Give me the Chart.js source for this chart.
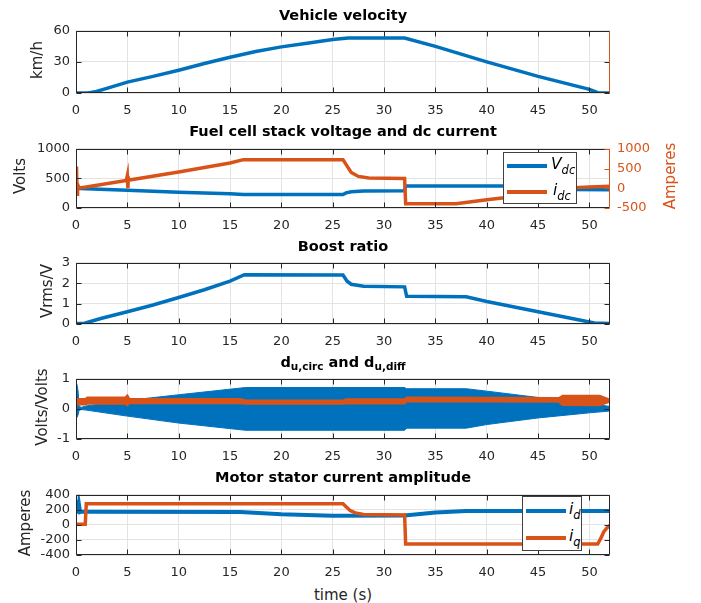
<!DOCTYPE html>
<html><head><meta charset="utf-8">
<script src="https://cdn.jsdelivr.net/npm/chart.js@4.4.0/dist/chart.umd.min.js"></script>
<style>
body{margin:0;background:#fff;}
#fig{position:relative;width:701px;height:603px;overflow:hidden;background:#fff;font-family:"DejaVu Sans",sans-serif;color:#262626;}
canvas{position:absolute;left:0;}
.ttl{position:absolute;left:343px;transform:translate(-50%,-50%);font-weight:bold;font-size:14.5px;color:#000;white-space:nowrap;}
.ttl sub{font-size:10.5px;}
.yl{position:absolute;transform:translate(-50%,-50%) rotate(-90deg);font-size:15px;white-space:nowrap;color:#262626;}
.lg{position:absolute;background:#fff;border:1px solid #404040;box-sizing:border-box;}
.ls{position:absolute;height:4px;width:40px;}
.lt{position:absolute;font-style:italic;font-size:15.5px;color:#000;transform:translateY(-50%);white-space:nowrap;}
.lt sub{font-size:11.5px;}
</style></head>
<body>
<div id="fig">
  <canvas id="c1" width="701" height="100" style="top:17px"></canvas>
  <canvas id="c2" width="701" height="98" style="top:134px"></canvas>
  <canvas id="c3" width="701" height="99" style="top:249px"></canvas>
  <canvas id="c4" width="701" height="98" style="top:365px"></canvas>
  <canvas id="c5" width="701" height="98" style="top:481px"></canvas>

  <div class="ttl" style="top:15px">Vehicle velocity</div>
  <div class="ttl" style="top:131px">Fuel cell stack voltage and dc current</div>
  <div class="ttl" style="top:246px">Boost ratio</div>
  <div class="ttl" style="top:363px">d<sub>u,circ</sub> and d<sub>u,diff</sub></div>
  <div class="ttl" style="top:477px">Motor stator current amplitude</div>

  <div class="yl" style="left:37px;top:60px">km/h</div>
  <div class="yl" style="left:20px;top:176px">Volts</div>
  <div class="yl" style="left:670px;top:176px;color:#D95319">Amperes</div>
  <div class="yl" style="left:47px;top:291px">Vrms/V</div>
  <div class="yl" style="left:42px;top:407px">Volts/Volts</div>
  <div class="yl" style="left:25px;top:523px">Amperes</div>
  <div style="position:absolute;left:343px;top:595px;transform:translate(-50%,-50%);font-size:15px;color:#262626;white-space:nowrap">time (s)</div>

  <div class="lg" style="left:503px;top:152px;width:74px;height:52px">
    <div class="ls" style="left:3px;top:11px;background:#0072BD"></div>
    <div class="lt" style="left:47px;top:13px">V<sub>dc</sub></div>
    <div class="ls" style="left:3px;top:37px;background:#D95319"></div>
    <div class="lt" style="left:49px;top:39px">i<sub>dc</sub></div>
  </div>
  <div class="lg" style="left:522px;top:496px;width:60px;height:55px">
    <div class="ls" style="left:3px;top:12px;background:#0072BD"></div>
    <div class="lt" style="left:46px;top:14px">i<sub>d</sub></div>
    <div class="ls" style="left:3px;top:39px;background:#D95319"></div>
    <div class="lt" style="left:46px;top:41px">i<sub>q</sub></div>
  </div>
</div>
<script>
// ---------------- DATA ----------------
const xTicksStep = 5;
// Vehicle velocity (km/h)
const velT = [0, 1.2, 2, 3, 5, 7.5, 10, 12.5, 15, 17.5, 20, 22.5, 25, 26.5, 32, 35, 40, 45, 50, 50.8, 52];
const velV = [0, 0, 1.5, 4.5, 10.5, 16, 22, 28.5, 34.5, 40, 44.5, 48, 51.5, 53, 53, 45, 30, 16, 3.5, 0.3, 0];
// Fuel cell stack voltage (V, left axis)
const vdcT = [0, 0.05, 0.1, 0.2, 0.5, 1, 5, 10, 15, 16.3, 26, 26.3, 26.8, 28, 32, 32.1, 42, 45, 48, 52];
const vdcV = [330, 370, 300, 335, 330, 325, 298, 268, 240, 230, 228, 255, 275, 288, 292, 372, 372, 360, 312, 308];
// DC current (A, right axis)
const idcT = [0, 0.05, 0.1, 0.15, 0.3, 1, 4.9, 5, 5.05, 5.1, 5.2, 10, 15, 16.3, 26, 26.4, 26.8, 27.5, 28.5, 32, 32.1, 37, 40, 43, 46, 48, 50, 52];
const idcV = [0, 550, -150, 100, 10, 30, 200, 320, 0, 260, 210, 410, 640, 725, 725, 560, 400, 300, 260, 250, -390, -390, -290, -200, -100, 10, 35, 50];
// Boost ratio (Vrms/V)
const brT = [0, 0.8, 1, 2.5, 5, 7.5, 10, 12.5, 15, 16.4, 26, 26.4, 26.8, 28, 32, 32.2, 38, 40, 45, 50, 50.5, 52];
const brV = [0.02, 0.03, 0.06, 0.28, 0.6, 0.93, 1.3, 1.68, 2.1, 2.42, 2.4, 2.1, 1.95, 1.85, 1.82, 1.36, 1.33, 1.1, 0.6, 0.1, 0.05, 0.03];
// d_u,circ envelope (Volts/Volts)
const circT  = [0, 0.05, 0.1, 0.2, 0.3, 0.5, 1, 5, 10, 16.5, 32, 32.2, 38, 40, 45, 50, 52];
const circUp = [0.2, 0.85, 0.8, 0.6, 0.1, 0.05, 0.1, 0.28, 0.47, 0.71, 0.71, 0.67, 0.67, 0.59, 0.38, 0.18, 0.08];
const circLo = [-0.1, -0.3, -0.28, -0.2, -0.05, -0.02, -0.04, -0.24, -0.47, -0.71, -0.71, -0.64, -0.64, -0.52, -0.3, -0.13, -0.07];
// d_u,diff band
const diffT  = [0, 0.9, 1.1, 4.8, 5.0, 5.2, 16, 16.5, 26, 26.3, 32, 32.2, 40, 47, 47.4, 51, 51.8, 52];
const diffUp = [0.33, 0.33, 0.38, 0.38, 0.45, 0.34, 0.33, 0.28, 0.28, 0.32, 0.32, 0.38, 0.37, 0.36, 0.44, 0.44, 0.33, 0.3];
const diffLo = [0.15, 0.15, 0.17, 0.17, 0.12, 0.2, 0.19, 0.17, 0.17, 0.18, 0.18, 0.25, 0.25, 0.24, 0.13, 0.12, 0.22, 0.25];
// Motor stator currents (A)
const idT = [0, 0.05, 0.1, 0.15, 0.2, 0.25, 0.3, 0.4, 0.5, 1, 16, 20, 25, 32, 35, 38, 52];
const idV = [300, 150, 330, 160, 300, 170, 260, 170, 175, 175, 170, 140, 122, 125, 166, 185, 185];
const iqT = [0, 0.9, 1, 26, 26.3, 26.7, 27.2, 28, 32, 32.1, 50.8, 51.1, 51.4, 51.7, 52];
const iqV = [10, 10, 280, 280, 240, 190, 160, 138, 132, -255, -255, -180, -90, -40, -5];

// ---------------- STYLE / HELPERS ----------------
const BLUE = '#0072BD', ORANGE = '#D95319', AX = '#262626', GRID = '#e3e3e3';
const FONT = {family: 'DejaVu Sans', size: 13};
const pts = (T, V) => T.map((t, i) => ({x: t, y: V[i]}));
const plain = v => String(v);

const boxPlugin = {
  id: 'mbox',
  afterDraw(chart, args, opts) {
    const {ctx, chartArea: a, scales} = chart;
    const L = Math.round(a.left) + 0.5, R = Math.round(a.right) - 0.5;
    const T = Math.round(a.top) + 0.5, B = Math.round(a.bottom) - 0.5;
    ctx.save();
    ctx.lineWidth = 1;
    ctx.strokeStyle = AX;
    ctx.beginPath();
    scales.x.ticks.forEach(t => {
      const px = Math.round(scales.x.getPixelForValue(t.value)) + 0.5;
      ctx.moveTo(px, B); ctx.lineTo(px, B - 5);
      ctx.moveTo(px, T); ctx.lineTo(px, T + 5);
    });
    scales.y.ticks.forEach(t => {
      const py = Math.round(scales.y.getPixelForValue(t.value)) + 0.5;
      ctx.moveTo(L, py); ctx.lineTo(L + 5, py);
      if (!opts.right) { ctx.moveTo(R, py); ctx.lineTo(R - 5, py); }
    });
    ctx.moveTo(L, T); ctx.lineTo(R, T);
    ctx.moveTo(L, B); ctx.lineTo(R, B);
    ctx.moveTo(L, T); ctx.lineTo(L, B);
    if (!opts.rightColor) { ctx.moveTo(R, T); ctx.lineTo(R, B); }
    ctx.stroke();
    if (opts.rightColor) {
      ctx.strokeStyle = opts.rightColor;
      ctx.beginPath();
      ctx.moveTo(R, T); ctx.lineTo(R, B);
      if (opts.right) {
        scales[opts.right].ticks.forEach(t => {
          const py = Math.round(scales[opts.right].getPixelForValue(t.value)) + 0.5;
          ctx.moveTo(R, py); ctx.lineTo(R - 5, py);
        });
      }
      ctx.stroke();
    }
    ctx.restore();
  }
};

function xScale() {
  return {
    type: 'linear', min: 0, max: 52,
    ticks: {stepSize: xTicksStep, includeBounds: false, autoSkip: false, color: AX, font: FONT, padding: 10, maxRotation: 0, callback: plain},
    grid: {color: GRID, drawTicks: false},
    border: {display: false},
    afterFit: s => { s.height = 24; }
  };
}
function yScale(min, max, step) {
  return {
    type: 'linear', min, max,
    ticks: {stepSize: step, autoSkip: false, color: AX, font: FONT, padding: 6, callback: plain},
    grid: {color: GRID, drawTicks: false},
    border: {display: false},
    afterFit: s => { s.width = 76; }
  };
}
function line(data, color, extra) {
  return Object.assign({data, borderColor: color, backgroundColor: color, borderWidth: 3.5,
    pointRadius: 0, tension: 0, fill: false}, extra || {});
}
function make(id, datasets, scales, rightPad, boxOpts) {
  return new Chart(document.getElementById(id), {
    type: 'line',
    data: {datasets},
    options: {
      responsive: false, animation: false, devicePixelRatio: 1,
      layout: {padding: {left: 0, right: rightPad, top: 10, bottom: 0}},
      plugins: {legend: {display: false}, tooltip: {enabled: false}, title: {display: false}, mbox: boxOpts || {}},
      scales
    },
    plugins: [boxPlugin]
  });
}

// 1. Vehicle velocity
make('c1', [line(pts(velT, velV), BLUE)],
  {x: xScale(), y: yScale(0, 60, 30)}, 91, {rightColor: ORANGE});

// 2. Fuel cell stack voltage and dc current
const y2 = {
  type: 'linear', position: 'right', min: -500, max: 1000,
  ticks: {stepSize: 500, autoSkip: false, color: ORANGE, font: FONT, padding: 7, callback: plain},
  grid: {display: false, drawTicks: false},
  border: {display: false},
  afterFit: s => { s.width = 91; }
};
make('c2', [
    line(pts(idcT, idcV), ORANGE, {yAxisID: 'y2'}),
    line(pts(vdcT, vdcV), BLUE, {yAxisID: 'y'})
  ],
  {x: xScale(), y: yScale(0, 1000, 500), y2}, 0, {right: 'y2', rightColor: ORANGE});

// 3. Boost ratio
make('c3', [line(pts(brT, brV), BLUE)],
  {x: xScale(), y: yScale(0, 3, 1)}, 91);

// 4. d_u,circ and d_u,diff
make('c4', [
    line(pts(diffT, diffUp), ORANGE, {borderWidth: 2}),
    line(pts(diffT, diffLo), ORANGE, {borderWidth: 2, fill: '-1'}),
    line(pts(circT, circUp), BLUE, {borderWidth: 1}),
    line(pts(circT, circLo), BLUE, {borderWidth: 1, fill: '-1'})
  ],
  {x: xScale(), y: yScale(-1, 1, 1)}, 91);

// 5. Motor stator current amplitude
make('c5', [
    line(pts(iqT, iqV), ORANGE),
    line(pts(idT, idV), BLUE, {borderWidth: 4})
  ],
  {x: xScale(), y: yScale(-400, 400, 200)}, 91);
</script>
</body></html>
